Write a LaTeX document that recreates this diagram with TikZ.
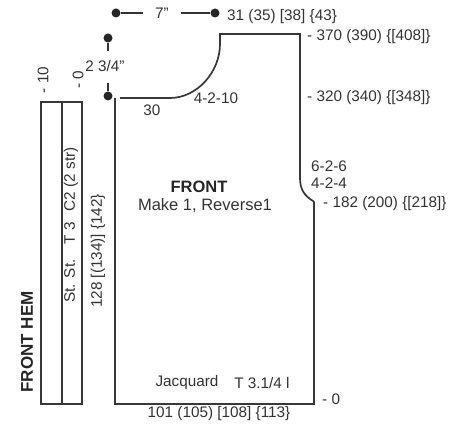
\documentclass[tikz,border=0pt]{standalone}
\usepackage{fontspec}
\setmainfont{Liberation Sans}
\begin{document}
\begin{tikzpicture}[x=1pt,y=-1pt,
  outline/.style={draw=black!78,line width=1.7pt},
  thin line/.style={draw=black!80,line width=1.3pt},
  lbl/.style={inner sep=0pt,text=black!80,font=\fontsize{15.3}{17}\selectfont,anchor=west},
  rot/.style={inner sep=0pt,text=black!80,font=\fontsize{15.3}{17}\selectfont,rotate=90},
  bold lbl/.style={inner sep=0pt,text=black!85,font=\fontsize{17}{19}\selectfont\bfseries},
  dotn/.style={circle,fill=black!85,inner sep=0pt,minimum size=9pt}]
\useasboundingbox (0,0) rectangle (458,425);
% garment
\coordinate (a) at (115,98);
\coordinate (b) at (115,404);
\coordinate (c) at (314,404);
\coordinate (d) at (314,202);
\coordinate (e) at (300,178);
\coordinate (f) at (300,34);
\coordinate (g) at (220,34);
\coordinate (h) at (170,98);
\coordinate (i) at (120,98);
\draw[outline,line join=miter] (a) -- (b) -- (c) -- (d) -- (313,201) .. controls (305,196) and (300,190) .. (e) -- (f) -- (g) -- (220,44) .. controls (220,72) and (197,98) .. (h) -- (i);
% hem
\draw[outline] (41,102) rectangle (82,404);
\draw[outline] (62,102) -- (62,404);
% dimension marks
\node[dotn] (d1) at (116,13) {};
\node[dotn] (d2) at (215,13) {};
\node[dotn] (d3) at (108,38) {};
\node[dotn] (d4) at (108,96) {};
\coordinate (d1e) at (143,13);
\coordinate (d2e) at (181,13);
\coordinate (d3e) at (108,51);
\coordinate (d4e) at (108,83);
\draw[thin line] (d1) -- (d1e);
\draw[thin line] (d2) -- (d2e);
\draw[thin line] (d3) -- (d3e);
\draw[thin line] (d4) -- (d4e);
% labels
\node[lbl,anchor=center] (t7) at (162,13) {7"};
\node[lbl,anchor=center] (t234) at (105,66) {2 3/4"};
\node[lbl] (t31) at (227,17) {31 (35) [38] \{43\}};
\node[lbl] (t370) at (307,37) {- 370 (390) \{[408]\}};
\node[lbl] (t320) at (307,98) {- 320 (340) \{[348]\}};
\node[lbl] (t626) at (311,166) {6-2-6};
\node[lbl] (t424) at (311,183) {4-2-4};
\node[lbl] (t182) at (323,204) {- 182 (200) \{[218]\}};
\node[lbl,anchor=center] (t30) at (152,110) {30};
\node[lbl,anchor=center] (t4210) at (216,98) {4-2-10};
\node[bold lbl,font=\fontsize{16.5}{18}\selectfont\bfseries] (front) at (199,187) {FRONT};
\node[lbl,anchor=center,font=\fontsize{16.5}{18}\selectfont] (make) at (205,206) {Make 1, Reverse1};
\node[lbl,anchor=center] (jac) at (187,383) {Jacquard};
\node[lbl,anchor=center] (t314) at (262,383) {T 3.1/4 l};
\node[lbl,anchor=center] (t101) at (219,414) {101 (105) [108] \{113\}};
\node[lbl] (t0) at (322,399) {- 0};
\node[rot] (m10) at (43,80) {- 10};
\node[rot] (m0) at (78,80) {- 0};
\node[rot] (cc) at (71,225) {St. St.\hspace{15pt}T 3\hspace{11pt}C2 (2 str)};
\node[rot] (t128) at (98,251) {128 [(134)] \{142\}};
\node[bold lbl,rotate=90] (hem) at (27,342) {FRONT HEM};
\end{tikzpicture}
\end{document}
